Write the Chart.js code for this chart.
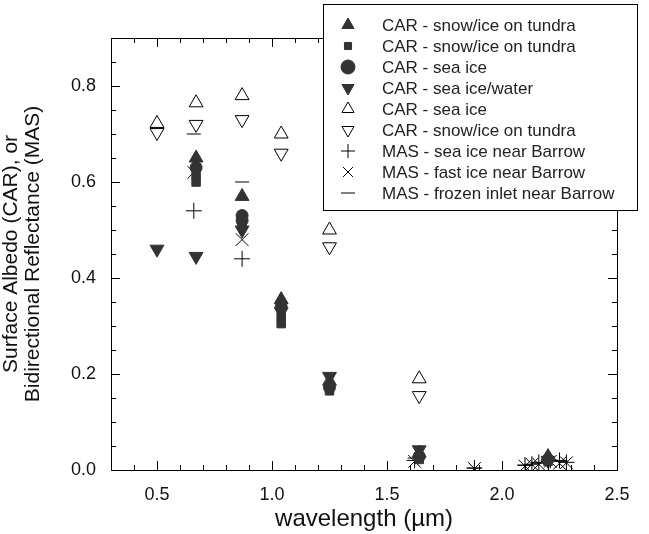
<!DOCTYPE html>
<html>
<head>
<meta charset="utf-8">
<script src="https://cdn.jsdelivr.net/npm/chart.js@4"></script>
<style>
  html, body { margin: 0; padding: 0; background: #fff; }
  #wrap { width: 649px; height: 534px; }
</style>
</head>
<body>
<div id="wrap"><canvas id="albedoChart" width="649" height="534"></canvas></div>
<script>
// axis ticks
const xTickValues = [0.5, 1.0, 1.5, 2.0, 2.5];
const yTickValues = [0.0, 0.2, 0.4, 0.6, 0.8];

// series labels
const seriesLabels = [
    'CAR - snow/ice on tundra',
    'CAR - snow/ice on tundra',
    'CAR - sea ice',
    'CAR - sea ice/water',
    'CAR - sea ice',
    'CAR - snow/ice on tundra',
    'MAS - sea ice near Barrow',
    'MAS - fast ice near Barrow',
    'MAS - frozen inlet near Barrow'
];

// wavelengths (um) and values, one pair of arrays per series
const carTundraTriX = [0.67, 0.87, 1.04, 1.25, 1.64, 2.20];
const carTundraTriY = [0.650, 0.570, 0.355, 0.185, 0.035, 0.028];

const carTundraSqX = [0.67, 0.67, 0.87, 1.04, 1.04, 1.25, 1.64, 2.20];
const carTundraSqY = [0.615, 0.600, 0.510, 0.320, 0.305, 0.165, 0.022, 0.018];

const carSeaIceX = [0.67, 0.87, 0.87, 1.04, 1.25, 1.64, 2.20];
const carSeaIceY = [0.630, 0.530, 0.520, 0.340, 0.172, 0.028, 0.022];

const carIceWaterX = [0.50, 0.67, 0.87, 1.04, 1.25, 1.64, 2.20];
const carIceWaterY = [0.460, 0.445, 0.500, 0.330, 0.195, 0.042, 0.020];

const carSeaIceOpenX = [0.50, 0.67, 0.87, 1.04, 1.25, 1.64];
const carSeaIceOpenY = [0.722, 0.765, 0.780, 0.700, 0.500, 0.190];

const carTundraOpenX = [0.50, 0.67, 0.87, 1.04, 1.25, 1.64];
const carTundraOpenY = [0.703, 0.720, 0.730, 0.660, 0.465, 0.155];

const masSeaIceX = [0.66, 0.87, 1.62, 1.88, 2.10, 2.13, 2.16, 2.21, 2.25, 2.28];
const masSeaIceY = [0.540, 0.440, 0.020, 0.004, 0.010, 0.012, 0.016, 0.020, 0.020, 0.016];

const masFastIceX = [0.66, 0.87, 1.62, 1.88, 2.10, 2.13, 2.16, 2.21, 2.25, 2.28];
const masFastIceY = [0.620, 0.480, 0.018, 0.003, 0.008, 0.012, 0.012, 0.018, 0.014, 0.015];

const masInletX = [0.66, 0.87, 1.62, 1.88, 2.10, 2.16, 2.21, 2.25];
const masInletY = [0.700, 0.600, 0.025, 0.004, 0.010, 0.014, 0.020, 0.018];

function pairs(xs, ys) {
    return xs.map((x, i) => ({ x: x, y: ys[i] }));
}

const dark = '#333333';
const fontFamily = '"Liberation Sans", Arial, Helvetica, sans-serif';

function series(i, xs, ys, style, rot, radius, filled) {
    return {
        label: seriesLabels[i],
        data: pairs(xs, ys),
        pointStyle: style,
        pointRotation: rot,
        pointRadius: radius,
        pointHoverRadius: radius,
        pointBorderWidth: 1,
        pointBackgroundColor: filled ? dark : 'rgba(0,0,0,0)',
        pointBorderColor: filled ? dark : '#000',
        showLine: false
    };
}

const datasets = [
    series(0, carTundraTriX, carTundraTriY, 'triangle', 0, 8, true),
    series(1, carTundraSqX, carTundraSqY, 'rect', 0, 6, true),
    series(2, carSeaIceX, carSeaIceY, 'circle', 0, 6, true),
    series(3, carIceWaterX, carIceWaterY, 'triangle', 180, 8, true),
    series(4, carSeaIceOpenX, carSeaIceOpenY, 'triangle', 0, 8, false),
    series(5, carTundraOpenX, carTundraOpenY, 'triangle', 180, 8, false),
    series(6, masSeaIceX, masSeaIceY, 'cross', 0, 8, false),
    series(7, masFastIceX, masFastIceY, 'crossRot', 0, 9, false),
    series(8, masInletX, masInletY, 'line', 0, 7, false)
];

// box around the plot with inward ticks on all four sides
const frameTicks = {
    id: 'frameTicks',
    afterDraw(chart) {
        const ctx = chart.ctx;
        const a = chart.chartArea;
        const xs = chart.scales.x, ys = chart.scales.y;
        ctx.save();
        ctx.strokeStyle = '#000';
        ctx.lineWidth = 1;
        ctx.strokeRect(a.left + 0.5, a.top + 0.5, a.right - a.left, a.bottom - a.top);
        ctx.beginPath();
        for (let k = 3; k <= 25; k++) {
            const v = k / 10;
            const px = Math.round(xs.getPixelForValue(v)) + 0.5;
            const len = (k % 5 === 0) ? 9 : 5;
            ctx.moveTo(px, a.bottom); ctx.lineTo(px, a.bottom - len);
            ctx.moveTo(px, a.top); ctx.lineTo(px, a.top + len);
        }
        for (let k = 0; k <= 18; k++) {
            const v = k * 0.05;
            const py = Math.round(ys.getPixelForValue(v)) + 0.5;
            const len = (k % 4 === 0) ? 9 : 5;
            ctx.moveTo(a.left, py); ctx.lineTo(a.left + len, py);
            ctx.moveTo(a.right, py); ctx.lineTo(a.right - len, py);
        }
        ctx.stroke();
        ctx.restore();
    }
};

// legend drawn as a framed box overlapping the top right of the plot
const boxLegend = {
    id: 'boxLegend',
    afterDraw(chart) {
        const ctx = chart.ctx;
        const x0 = 323, y0 = 4, w = 314, h = 206;
        ctx.save();
        ctx.fillStyle = '#fff';
        ctx.fillRect(x0, y0, w, h);
        ctx.strokeStyle = '#000';
        ctx.lineWidth = 1;
        ctx.strokeRect(x0 + 0.5, y0 + 0.5, w, h);
        ctx.font = '17px ' + fontFamily;
        ctx.textBaseline = 'middle';
        chart.data.datasets.forEach((ds, i) => {
            const y = y0 + 21 + i * 21;
            ctx.fillStyle = ds.pointBackgroundColor;
            ctx.strokeStyle = ds.pointBorderColor;
            ctx.lineWidth = 1;
            Chart.helpers.drawPoint(ctx, {
                pointStyle: ds.pointStyle,
                rotation: ds.pointRotation,
                radius: ds.pointStyle === 'rect' ? 5 : 7,
                borderWidth: 1
            }, 348, y);
            ctx.fillStyle = '#222';
            ctx.fillText(ds.label, 382, y + 1);
        });
        ctx.restore();
    }
};

const ctx = document.getElementById('albedoChart').getContext('2d');
const albedoChart = new Chart(ctx, {
    type: 'scatter',
    data: { datasets: datasets },
    options: {
        responsive: false,
        animation: false,
        layout: { padding: { top: 38, right: 32, left: 0, bottom: 0 } },
        plugins: {
            legend: { display: false },
            tooltip: { enabled: false }
        },
        scales: {
            x: {
                type: 'linear',
                min: 0.3,
                max: 2.5,
                grid: { display: false },
                border: { display: false },
                afterBuildTicks: (scale) => { scale.ticks = xTickValues.map(v => ({ value: v })); },
                afterFit: (scale) => { scale.height = 64; },
                ticks: {
                    color: '#111',
                    padding: 6,
                    maxRotation: 0,
                    font: { family: fontFamily, size: 18 },
                    callback: (v) => Number(v).toFixed(1)
                },
                title: {
                    display: true,
                    text: 'wavelength (\u00b5m)',
                    color: '#111',
                    padding: { top: 0, bottom: 0 },
                    font: { family: fontFamily, size: 24 }
                }
            },
            y: {
                type: 'linear',
                min: 0,
                max: 0.9,
                grid: { display: false },
                border: { display: false },
                afterBuildTicks: (scale) => { scale.ticks = yTickValues.map(v => ({ value: v })); },
                afterFit: (scale) => { scale.width = 111; },
                ticks: {
                    color: '#111',
                    padding: 7,
                    font: { family: fontFamily, size: 18 },
                    callback: (v) => Number(v).toFixed(1)
                },
                title: {
                    display: true,
                    text: ['Surface Albedo (CAR), or', 'Bidirectional Reflectance (MAS)'],
                    color: '#111',
                    padding: { top: 0, bottom: 2 },
                    font: { family: fontFamily, size: 21, lineHeight: 1.05 }
                }
            }
        }
    },
    plugins: [frameTicks, boxLegend]
});
</script>
</body>
</html>
